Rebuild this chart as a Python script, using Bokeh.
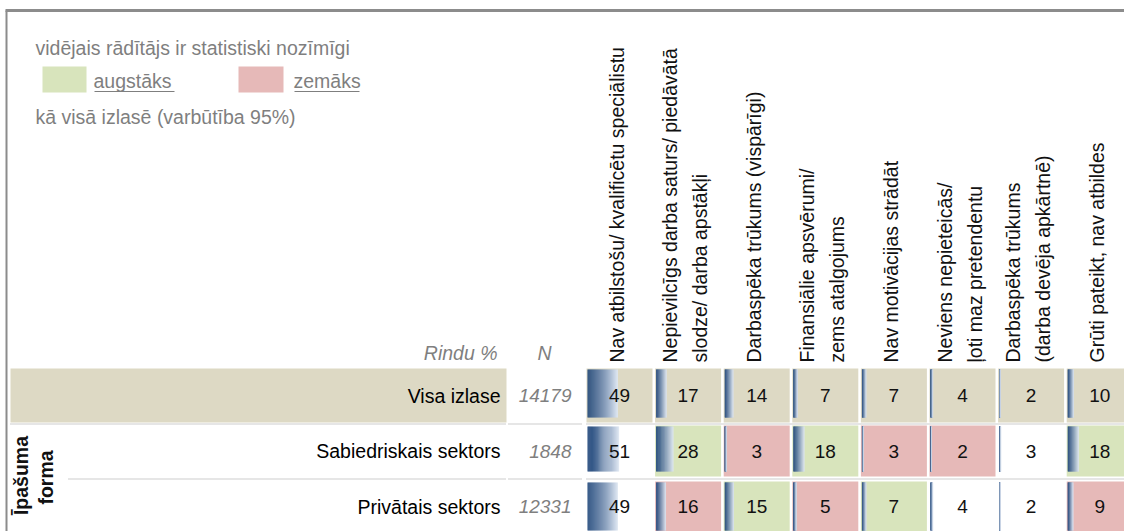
import numpy as np
from bokeh.plotting import figure
from bokeh.models import Range1d
from bokeh.core.properties import value
from bokeh.embed import file_html
from bokeh.resources import INLINE

# ---------------- data ----------------
headers = [
    ["Nav atbilstošu/ kvalificētu speciālistu"],
    ["Nepievilcīgs darba saturs/ piedāvātā", "slodze/ darba apstākļi"],
    ["Darbaspēka trūkums (vispārīgi)"],
    ["Finansiālie apsvērumi/", "zems atalgojums"],
    ["Nav motivācijas strādāt"],
    ["Neviens nepieteicās/", "ļoti maz pretendentu"],
    ["Darbaspēka trūkums", "(darba devēja apkārtnē)"],
    ["Grūti pateikt, nav atbildes"],
]
row_labels = ["Visa izlase", "Sabiedriskais sektors", "Privātais sektors"]
n_values = [14179, 1848, 12331]
vals_total = [49, 17, 14, 7, 7, 4, 2, 10]
vals_public = [51, 28, 3, 18, 3, 2, 3, 18]
vals_private = [49, 16, 15, 5, 7, 4, 2, 9]
sig_public = ["", "+", "-", "+", "-", "-", "", "+"]
sig_private = ["", "-", "+", "-", "+", "", "", "-"]
group_label = ["Īpašuma", "forma"]
legend_title = "vidējais  rādītājs  ir statistiski  nozīmīgi"
legend_high = " augstāks"
legend_low = "zemāks"
legend_note = "kā visā  izlasē  (varbūtība  95%)"

rows_vals = [vals_total, vals_public, vals_private]
rows_sig = [["t"] * 8, sig_public, sig_private]

# ---------------- layout ----------------
W, H = 1124, 531
FONT = value("Liberation Sans")
TAN, GREEN, PINK = "#ddd9c4", "#d8e4bc", "#e6b9b8"
GRAY = "#7f7f7f"
sig_color = {"t": TAN, "+": GREEN, "-": PINK, "": "#ffffff"}

col_left = [586 + i * 68.6 for i in range(8)]
cell_w = 66
row_top = [368, 425, 481]
row_bot = [422, 476, 540]
SCALE = 0.62  # px per percent


def Y(v):
    return H - v


p = figure(width=W, height=H,
           x_range=Range1d(0, W), y_range=Range1d(0, H),
           output_backend="svg", toolbar_location=None,
           x_axis_type=None, y_axis_type=None, min_border=0,
           outline_line_color=None, background_fill_color="white")
p.grid.visible = False

# frame
p.segment(x0=[6], y0=[Y(10)], x1=[6], y1=[Y(540)], line_color="#8c8c8c", line_width=2)
p.segment(x0=[5], y0=[Y(10)], x1=[1130], y1=[Y(10)], line_color="#8c8c8c", line_width=3)

# legend
p.text(x=[35], y=[Y(47)], text=[legend_title], text_font=FONT, text_font_size=value("19.5px"),
       text_color=GRAY, text_baseline="middle", text_align="left")
p.quad(left=[42, 238], right=[86, 283], top=[Y(66), Y(66)], bottom=[Y(92), Y(92)],
       fill_color=[GREEN, PINK], line_color=None)
p.text(x=[93, 293], y=[Y(80), Y(80)], text=[legend_high, legend_low], text_font=FONT,
       text_font_size=value("19.5px"), text_color=GRAY, text_baseline="middle", text_align="left")
p.segment(x0=[94, 294], y0=[Y(91), Y(91)], x1=[174, 359], y1=[Y(91), Y(91)],
          line_color=GRAY, line_width=1)
p.text(x=[35], y=[Y(116)], text=[legend_note], text_font=FONT, text_font_size=value("19.5px"),
       text_color=GRAY, text_baseline="middle", text_align="left")

# column headers (rotated)
hx, hy, ht = [], [], []
for i, lines in enumerate(headers):
    offs = [30] if len(lines) == 1 else [15, 45]
    for o, t in zip(offs, lines):
        hx.append(col_left[i] + o)
        hy.append(Y(362))
        ht.append(t)
p.text(x=hx, y=hy, text=ht, angle=np.pi / 2, text_font=FONT, text_font_size=value("19.5px"),
       text_color="#111111", text_baseline="middle", text_align="left")

p.text(x=[497, 551], y=[Y(352), Y(352)], text=["Rindu %", "N"], text_font=FONT,
       text_font_size=value("19.5px"), text_font_style="italic", text_color=GRAY,
       text_baseline="middle", text_align="right")

# row label background for total row
p.quad(left=[10], right=[506], top=[Y(row_top[0])], bottom=[Y(row_bot[0])],
       fill_color=TAN, line_color=None)

# row labels and N
rc = [(row_top[r] + min(row_bot[r], 531)) / 2 for r in range(3)]
p.text(x=[500] * 3, y=[Y(c) for c in rc], text=row_labels, text_font=FONT,
       text_font_size=value("19.5px"), text_color="#000000", text_baseline="middle",
       text_align="right")
p.text(x=[571] * 3, y=[Y(c) for c in rc], text=[str(n) for n in n_values], text_font=FONT,
       text_font_size=value("19px"), text_font_style="italic", text_color=GRAY,
       text_baseline="middle", text_align="right")

# group label
p.text(x=[20, 45], y=[Y(475), Y(477)], text=group_label, angle=np.pi / 2, text_font=FONT,
       text_font_size=value("19.5px"), text_font_style="bold", text_color="#111111",
       text_baseline="middle", text_align="center")

# cells
cl, cr, ct, cb, cc = [], [], [], [], []
for r in range(3):
    for c in range(8):
        cl.append(col_left[c])
        cr.append(col_left[c] + cell_w)
        ct.append(Y(row_top[r]))
        cb.append(Y(row_bot[r]))
        cc.append(sig_color[rows_sig[r][c]])
p.quad(left=cl, right=cr, top=ct, bottom=cb, fill_color=cc, line_color=None)

# gradient bars
dark = np.array([0x1f, 0x46, 0x7a], dtype=float)
light = np.array([0xdc, 0xe5, 0xf1], dtype=float)
NS = 30
bl, br, bt, bb, bc = [], [], [], [], []
for r in range(3):
    for c in range(8):
        v = rows_vals[r][c]
        x0 = col_left[c] + 1
        w = v * SCALE
        for k in range(NS):
            t = (k / (NS - 1)) ** 1.1
            col = dark + (light - dark) * t
            bl.append(x0 + w * k / NS)
            br.append(x0 + w * (k + 1) / NS + (0.25 if k < NS - 1 else 0))
            bt.append(Y(row_top[r] + 1))
            bb.append(Y(row_bot[r] - 5) if r < 2 else Y(row_top[r] + 49))
            bc.append("#%02x%02x%02x" % tuple(int(round(x)) for x in col))
p.quad(left=bl, right=br, top=bt, bottom=bb, fill_color=bc, line_color=None)

# values
vx, vy, vt = [], [], []
for r in range(3):
    for c in range(8):
        vx.append(col_left[c] + cell_w / 2)
        vy.append(Y(rc[r] if r < 2 else row_top[r] + 25))
        vt.append(str(rows_vals[r][c]))
p.text(x=vx, y=vy, text=vt, text_font=FONT, text_font_size=value("19px"),
       text_color="#111111", text_baseline="middle", text_align="center")

# dotted separators
sx0 = [10, 508, 586, 68, 508, 586]
sx1 = [505, 582, 1130, 505, 582, 1130]
sy = [423.5, 423.5, 423.5, 478.5, 478.5, 478.5]
p.segment(x0=sx0, y0=[Y(s) for s in sy], x1=sx1, y1=[Y(s) for s in sy],
          line_color="#9a9a9a", line_width=1, line_dash="1 1")

open("out.html", "w").write(file_html(p, INLINE))
